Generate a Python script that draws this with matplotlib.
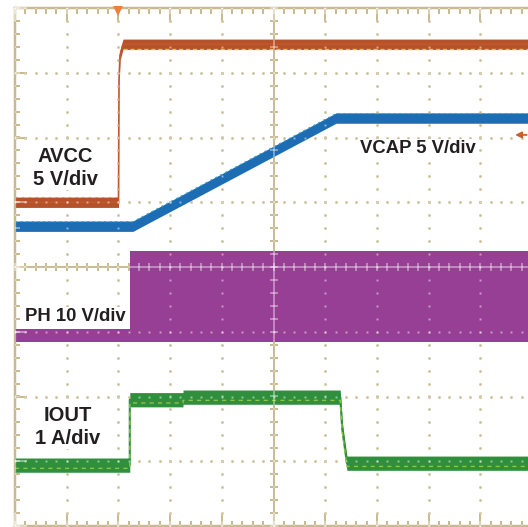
import numpy as np
import matplotlib.pyplot as plt

# traces, in screen divisions (10 x 8 graticule, centre = 5, 0)
avcc_t = [0, 2.0, 2.002, 2.012, 2.031, 2.089, 10]
avcc_v = [1.0, 1.0, 1.0, 2.89, 3.27, 3.44, 3.44]

vcap_t = [0, 2.28, 6.21, 10]
vcap_v = [0.63, 0.63, 2.30, 2.30]

ph_t = [0, 2.22, 2.22, 10]
ph_lo = [-1.16, -1.16, -1.16, -1.16]
ph_hi = [-0.96, -0.96, 0.25, 0.25]

iout_t = [0, 2.22, 2.22, 3.25, 3.25, 6.29, 6.33, 6.42, 10]
iout_v = [-3.06, -3.06, -2.05, -2.05, -2.01, -2.01, -2.5, -3.03, -3.03]

plt.rcParams['font.family'] = ['Liberation Sans', 'DejaVu Sans']

fig = plt.figure(figsize=(5.28, 5.27), dpi=100)
ax = fig.add_axes([15/528, 1/527, 517/528, 518/527])
ax.set_xlim(0, 10)
ax.set_ylim(-4, 4)
ax.axis('off')

dx = 10/517   # one pixel in x
dy = 8/518    # one pixel in y


def graticule(col, a, z):
    sub = np.arange(0, 10.01, 0.2)
    subv = np.arange(-4, 4.01, 0.2)
    kw = dict(color=col, alpha=a, zorder=z, clip_on=False)
    for gx in range(1, 10):
        if gx != 5:
            ax.plot(np.full(len(subv), gx), subv, ls='none', marker='s',
                    ms=1.4, mew=0, **kw)
    for gy in range(-3, 4):
        if gy != 0:
            ax.plot(sub, np.full(len(sub), gy), ls='none', marker='s',
                    ms=1.4, mew=0, **kw)
    # centre cross with small ticks
    ax.plot([5, 5], [-4, 4], lw=1.1, **kw)
    ax.plot([0, 10], [0, 0], lw=1.1, **kw)
    ax.hlines(subv, 5 - 4*dx, 5 + 4*dx, lw=1.1, **kw)
    ax.vlines(sub, -4*dy, 4*dy, lw=1.1, **kw)
    # border
    ax.plot([0, 0], [-4, 4], lw=1.6, **kw)
    ax.plot([0, 10], [4, 4], lw=1.6, **kw)
    ax.plot([0, 10], [-4, -4], lw=1.6, **kw)
    ax.vlines(sub, 4 - 6*dy, 4, lw=1.2, **kw)
    ax.vlines(range(11), 4 - 13*dy, 4, lw=1.2, **kw)
    ax.vlines(sub, -4, -4 + 5*dy, lw=1.2, **kw)
    ax.vlines(range(11), -4, -4 + 13*dy, lw=1.2, **kw)
    ax.hlines(subv, 0, 5*dx, lw=1.2, **kw)
    ax.hlines(range(-4, 5), 0, 12*dx, lw=1.2, **kw)


graticule('#91731d', 1.0, 1)

# AVCC
a_t = np.array(avcc_t)
a_v = np.array(avcc_v)
ax.fill_between(a_t, a_v - 0.08, a_v + 0.08, color='#b5522a', lw=0, zorder=3)
ax.plot(a_t, a_v, color='#c0582c', lw=1.2, zorder=3)
ax.plot(a_t[5:], a_v[5:] - 0.075, color='#e8c41c', lw=1.0, ls=(0, (3, 2)), zorder=3)
ax.plot(a_t[:3], a_v[:3] + 0.075, color='#d9a020', lw=0.8, ls=(0, (2, 4)), zorder=3)

# VCAP
v_t = np.array(vcap_t)
v_v = np.array(vcap_v)
ax.fill_between(v_t, v_v - 0.08, v_v + 0.08, color='#1d6db4', lw=0, zorder=3)
ax.plot(v_t, v_v + 0.07, color='#3fa3c6', lw=0.8, ls=(0, (2, 3)), zorder=3)

# PH
ax.fill_between(ph_t, ph_lo, ph_hi, color='#973f94', lw=0, zorder=3)

# IOUT
i_t = np.array(iout_t)
i_v = np.array(iout_v)
ax.fill_between(i_t, i_v - 0.11, i_v + 0.11, color='#2f8f3c', lw=0, zorder=3)
ax.plot(i_t, i_v, color='#2f8f3c', lw=1.5, zorder=3)
ax.plot(i_t, i_v - 0.05, color='#8cc63f', lw=1.0, ls=(0, (3, 3)), zorder=3)

# graticule shows lighter on top of traces
graticule('white', 0.5, 4)

# trigger markers
ax.plot([1.99], [4 - 3*dy], marker='v', ms=7, color='#f07f3c', mew=0,
        zorder=6, clip_on=False)
ax.annotate('', xy=(9.62, 2.04), xytext=(9.95, 2.04),
            arrowprops=dict(arrowstyle='-|>', color='#c8602e', lw=1.3,
                            mutation_scale=9), zorder=6)

# labels
tk = dict(color='#231f20', fontweight='bold', ha='center', va='baseline',
          zorder=7, bbox=dict(fc='white', ec='none', pad=0.5))
ax.text(0.977, 1.622, 'AVCC', fontsize=14.5, **tk)
ax.text(0.977, 1.266, '5 V/div', fontsize=14.5, **tk)
ax.text(7.795, 1.768, 'VCAP 5 V/div', fontsize=13.3, **tk)
ax.text(1.161, -0.834, 'PH 10 V/div', fontsize=13.3, **tk)
ax.text(1.025, -2.378, 'IOUT', fontsize=14.5, **tk)
ax.text(1.025, -2.734, '1 A/div', fontsize=14.5, **tk)

plt.savefig('out.png', dpi=100)
